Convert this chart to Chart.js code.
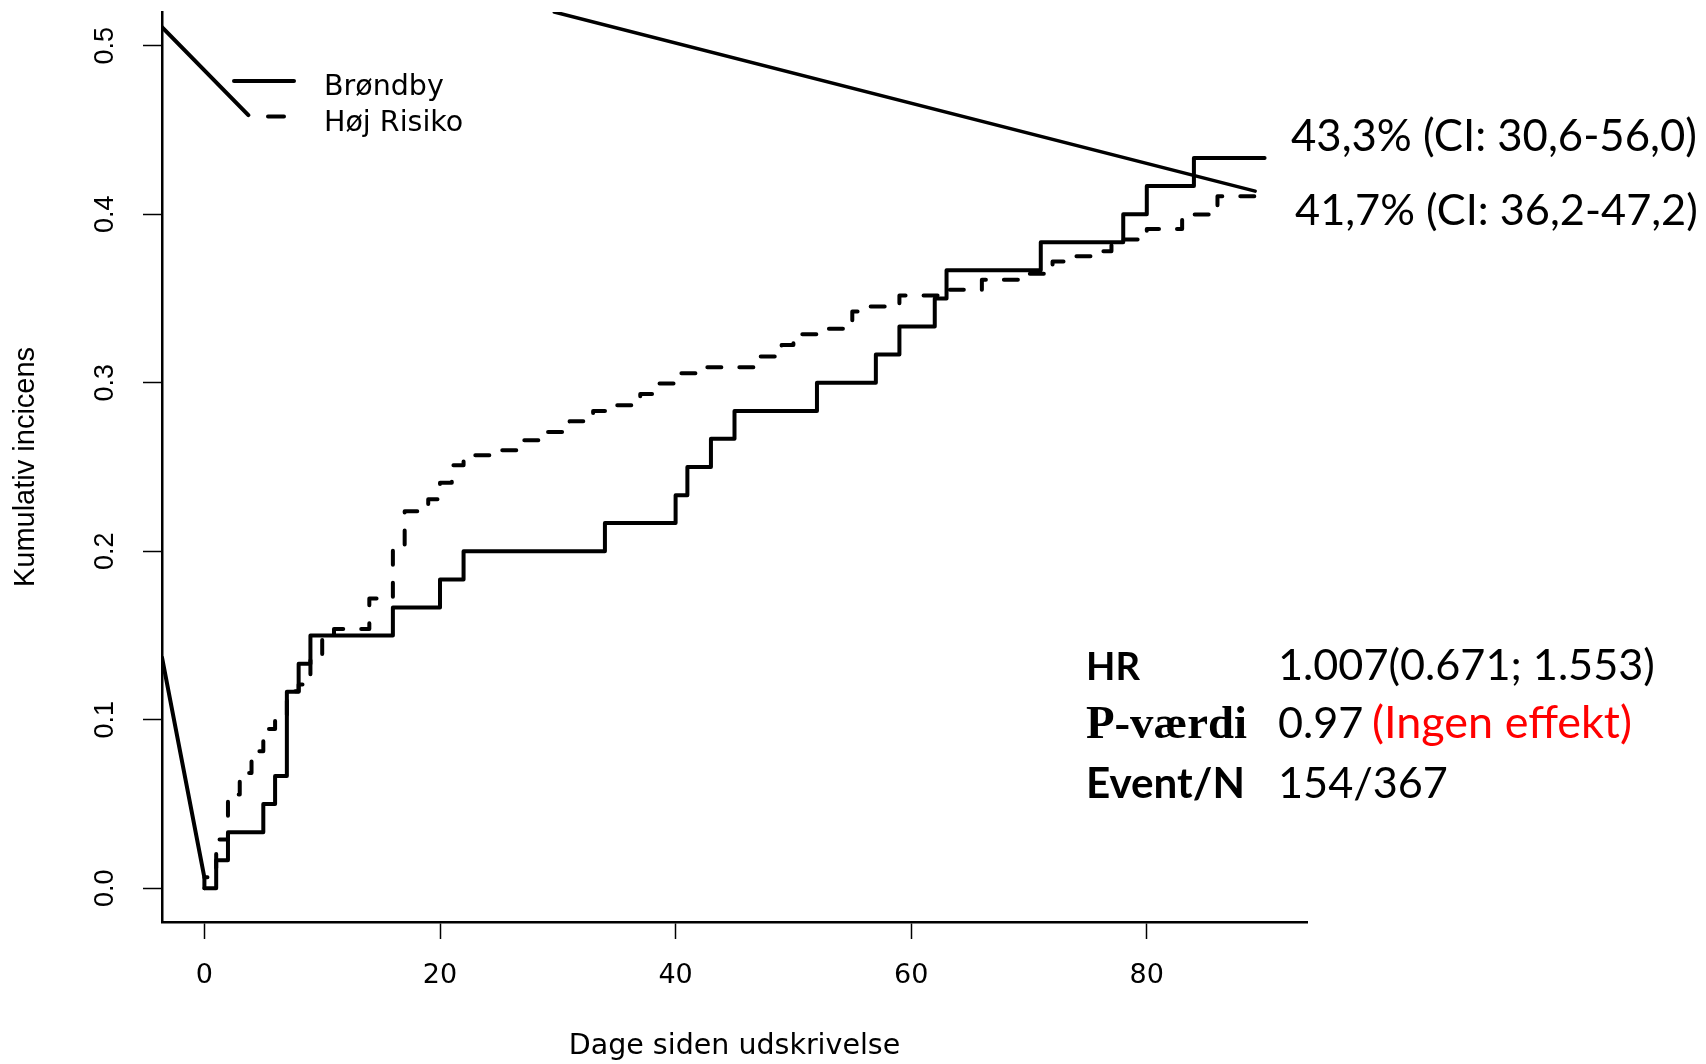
<!DOCTYPE html>
<html><head><meta charset="utf-8">
<script src="https://cdn.jsdelivr.net/npm/chart.js@4.4.1/dist/chart.umd.min.js"></script>
<style>html,body{margin:0;padding:0;background:#fff;}canvas{display:block;}</style>
</head><body>
<canvas id="c" width="1706" height="1064"></canvas>
<script>
// ---- data ----
const seriesNames = ['Brøndby', 'Høj Risiko'];
const brondbyDays = [0,1,2,5,6,7,8,9,16,20,22,34,40,41,43,45,52,57,59,62,63,71,78,80,84,90];
const brondbyValues = [0,0.0167,0.0333,0.05,0.0667,0.1167,0.1333,0.15,0.1667,0.1833,0.2,0.2167,0.2333,0.25,0.2667,0.2833,0.3,0.3167,0.3333,0.35,0.3667,0.3833,0.4,0.4167,0.4333,0.4333];
const hojDays = [0,0,1,2,3,4,5,6,7,8,9,10,11,14,16,17,19,20,21,22,25,27,29,31,33,35,37,38,40,42,47,49,50,53,55,56,59,63,66,70,72,74,76,77,80,83,86,90];
const hojValues = [0,0.0065,0.029,0.0556,0.0684,0.0813,0.0946,0.1012,0.117,0.121,0.1379,0.1478,0.1538,0.172,0.2014,0.2238,0.2308,0.2407,0.251,0.257,0.26,0.2659,0.2708,0.2772,0.2833,0.2867,0.2933,0.2996,0.3056,0.3092,0.3155,0.3224,0.3288,0.332,0.3423,0.3452,0.3518,0.3552,0.3611,0.3647,0.372,0.375,0.378,0.385,0.3913,0.3998,0.4107,0.4107];
// stray straight segments present in the original figure
const strayADays = [-3.6, 3.73];   const strayAValues = [0.511, 0.4588];
const strayBDays = [-3.6, 0];      const strayBValues = [0.137, 0.0064];
const strayCDays = [29.7, 89.2];   const strayCValues = [0.52, 0.4137];
const xTickStep = 20;
const yTickStep = 0.1;
const xLabel = 'Dage siden udskrivelse';
const yLabel = 'Kumulativ incicens';
const ciTexts = ['43,3% (CI: 30,6-56,0)', '41,7% (CI: 36,2-47,2)'];
const statLabels = ['HR', 'P-værdi', 'Event/N'];
const statValues = ['1.007(0.671; 1.553)', '0.97', '154/367'];
const pNote = '(Ingen effekt)';

function pts(xs, ys){ return xs.map((x,i)=>({x:x, y:ys[i]})); }

function fitText(c, txt, x, y, w, fam, weight, color){
  c.font = weight + ' 40px "' + fam + '"';
  const m = c.measureText(txt).width;
  const s = 40 * w / m;
  c.font = weight + ' ' + s + 'px "' + fam + '"';
  c.fillStyle = color;
  c.fillText(txt, x, y);
  return s;
}

const annotPlugin = {
  id: 'annot',
  afterDraw(chart){
    const c = chart.ctx;
    const ds = chart.data.datasets;
    c.save();
    // legend (R style, no box)
    c.strokeStyle = '#000'; c.lineWidth = 4; c.lineCap = 'round';
    c.beginPath(); c.moveTo(234, 81); c.lineTo(294, 81); c.stroke();
    c.beginPath(); c.moveTo(268, 116.5); c.lineTo(284, 116.5); c.stroke();
    c.fillStyle = '#000'; c.textAlign = 'left'; c.textBaseline = 'alphabetic';
    c.font = '28.5px "DejaVu Sans"';
    c.fillText(ds[0].label, 324, 95);
    c.fillText(ds[1].label, 324, 130.5);
    // CI annotations
    fitText(c, ciTexts[0], 1291, 151, 406, 'Lato', 'normal', '#000');
    fitText(c, ciTexts[1], 1295, 225, 403, 'Lato', 'normal', '#000');
    // stats block
    const vs = fitText(c, statValues[0], 1278, 680, 377, 'Lato', 'normal', '#000');
    fitText(c, statLabels[0], 1086, 680, 54, 'Lato', 'bold', '#000');
    fitText(c, statLabels[1], 1086, 738, 161, 'Liberation Serif', 'bold', '#000');
    fitText(c, statLabels[2], 1086, 798, 159, 'Lato', 'bold', '#000');
    c.font = vs + 'px "Lato"'; c.fillStyle = '#000';
    c.fillText(statValues[1], 1278, 738);
    c.fillText(statValues[2], 1278, 798);
    fitText(c, pNote, 1372, 738, 260, 'Lato', 'normal', '#ff0000');
    c.restore();
  }
};

function build(){
  const ctx = document.getElementById('c').getContext('2d');
  const lineBase = {borderColor:'#000', pointRadius:0, fill:false, borderCapStyle:'round', borderJoinStyle:'round'};
  new Chart(ctx, {
    type: 'line',
    data: { datasets: [
      Object.assign({label: seriesNames[0], data: pts(brondbyDays, brondbyValues), borderWidth:4, stepped:'before'}, lineBase),
      Object.assign({label: seriesNames[1], data: pts(hojDays, hojValues), borderWidth:4, stepped:'before', borderDash:[14,18]}, lineBase),
      Object.assign({label: '', data: pts(strayADays, strayAValues), borderWidth:4}, lineBase),
      Object.assign({label: '', data: pts(strayBDays, strayBValues), borderWidth:4}, lineBase),
      Object.assign({label: '', data: pts(strayCDays, strayCValues), borderWidth:3.5}, lineBase)
    ]},
    options: {
      responsive: false, animation: false, devicePixelRatio: 1,
      layout: {padding: {left:0, top:12, right:399, bottom:0}},
      plugins: {legend:{display:false}, tooltip:{enabled:false}},
      scales: {
        x: {
          type: 'linear', min: -3.6, max: 93.6,
          ticks: {stepSize: xTickStep, includeBounds: false, maxRotation: 0, color:'#000', padding: 21,
                  font: {family:'DejaVu Sans', size:27}},
          grid: {drawOnChartArea:false, drawTicks:true, tickLength:17, tickWidth:1.5, tickColor:'#000'},
          border: {display:true, color:'#000', width:2.5},
          title: {display:true, text: xLabel, color:'#000', font:{family:'DejaVu Sans', size:28.5}, padding:{top:0, bottom:0}},
          afterFit(s){ s.height = 142; s.paddingLeft = 0; s.paddingRight = 0; }
        },
        y: {
          type: 'linear', min: -0.02, max: 0.52,
          ticks: {stepSize: yTickStep, includeBounds: false, color:'#000', padding: 18.7,
                  minRotation: 90, maxRotation: 90, crossAlign: 'center',
                  font: {family:'Liberation Sans', size:27},
                  callback: v => Number(v).toFixed(1)},
          grid: {drawOnChartArea:false, drawTicks:true, tickLength:19, tickWidth:1.5, tickColor:'#000'},
          border: {display:true, color:'#000', width:2.5},
          title: {display:true, text: yLabel, color:'#000', font:{family:'Liberation Sans', size:29}, padding:{top:9, bottom:0}},
          afterFit(s){ s.width = 162; s.paddingTop = 0; s.paddingBottom = 0; }
        }
      }
    },
    plugins: [annotPlugin]
  });
}

const fontLoads = ['27px "DejaVu Sans"','27px "Liberation Sans"','40px "Lato"','bold 40px "Lato"','bold 40px "Liberation Serif"'].map(f => document.fonts.load(f).catch(()=>null));
Promise.all(fontLoads).then(build, build);
</script>
</body></html>
